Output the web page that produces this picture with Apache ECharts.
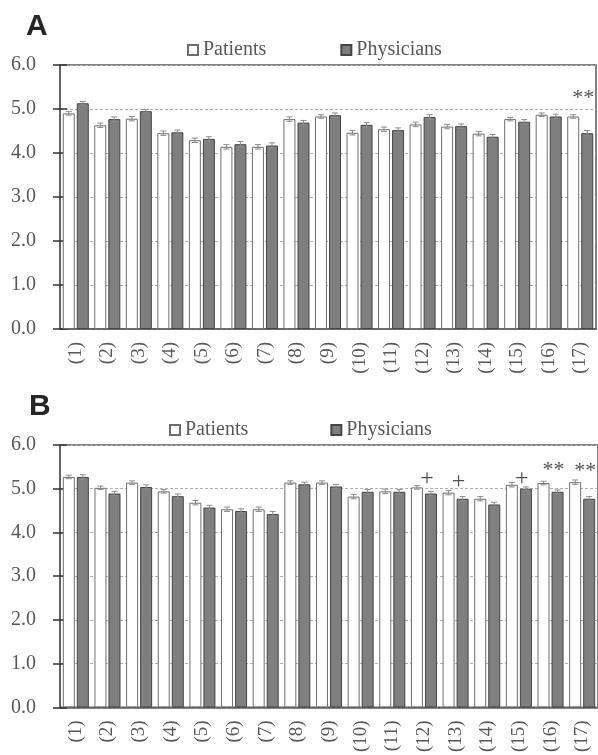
<!DOCTYPE html>
<html>
<head>
<meta charset="utf-8">
<script src="https://cdn.jsdelivr.net/npm/echarts@6/dist/echarts.min.js"></script>
<style>html,body{margin:0;padding:0;background:#fff;}#c{width:598px;height:755px;}</style>
</head>
<body>
<div id="c"></div>
<script>
// ---- data ----
const categories = ['(1)','(2)','(3)','(4)','(5)','(6)','(7)','(8)','(9)','(10)','(11)','(12)','(13)','(14)','(15)','(16)','(17)'];
const seriesNames = ['Patients', 'Physicians'];

// Panel A
const panelA_patients   = [4.90,4.63,4.78,4.45,4.29,4.14,4.14,4.77,4.83,4.46,4.54,4.65,4.60,4.44,4.77,4.87,4.83];
const panelA_physicians = [5.13,4.77,4.95,4.47,4.32,4.20,4.17,4.69,4.86,4.64,4.52,4.82,4.61,4.37,4.71,4.83,4.45];
const panelA_patientsErr   = [0.04,0.05,0.05,0.05,0.05,0.05,0.05,0.05,0.04,0.05,0.05,0.05,0.05,0.05,0.04,0.04,0.04];
const panelA_physiciansErr = [0.04,0.05,0.04,0.05,0.05,0.06,0.06,0.05,0.05,0.05,0.05,0.05,0.05,0.05,0.05,0.05,0.06];
const panelA_markCats  = ['(17)'];
const panelA_markTexts = ['**'];
const panelA_markY     = [5.25];

// Panel B
const panelB_patients   = [5.27,5.02,5.14,4.94,4.68,4.53,4.53,5.14,5.14,4.82,4.94,5.03,4.91,4.77,5.09,5.13,5.15];
const panelB_physicians = [5.27,4.89,5.04,4.83,4.57,4.49,4.42,5.10,5.05,4.93,4.93,4.89,4.77,4.64,5.00,4.93,4.77];
const panelB_patientsErr   = [0.04,0.04,0.04,0.04,0.05,0.05,0.05,0.04,0.04,0.05,0.05,0.04,0.05,0.05,0.05,0.04,0.05];
const panelB_physiciansErr = [0.05,0.05,0.05,0.05,0.05,0.05,0.06,0.05,0.05,0.05,0.05,0.05,0.05,0.05,0.04,0.04,0.05];
const panelB_markCats  = ['(12)','(13)','(15)','(16)','(17)'];
const panelB_markTexts = ['+','+','+','**','**'];
const panelB_markY     = [5.23,5.15,5.23,5.42,5.40];

const yMin = 0, yMax = 6, yInterval = 1;

// ---- styles ----
const SERIF = '"Liberation Serif","Times New Roman",serif';
const TXT = '#595959';
const LINE = '#595959';
const BAR_W = 12;
const HALF_SPACING = 7; // half distance between the two bar centres (bar width + gap)/2

function errRender(side) {
  return function (params, api) {
    const i = api.value(0), v = api.value(1), e = api.value(2);
    const top = api.coord([i, v + e]);
    const bot = api.coord([i, v - e]);
    const x = top[0] + side * HALF_SPACING;
    const st = { stroke: '#8c8c8c', lineWidth: 1 };
    return {
      type: 'group',
      children: [
        { type: 'line', shape: { x1: x, y1: top[1], x2: x, y2: bot[1] }, style: st },
        { type: 'line', shape: { x1: x - 3, y1: top[1], x2: x + 3, y2: top[1] }, style: st },
        { type: 'line', shape: { x1: x - 3, y1: bot[1], x2: x + 3, y2: bot[1] }, style: st }
      ]
    };
  };
}

function panelSeries(gi, pat, phy, patErr, phyErr, mCats, mTexts, mY) {
  const xi = gi, yi = gi * 2;
  return [
    { name: seriesNames[0], type: 'bar', xAxisIndex: xi, yAxisIndex: yi, data: pat,
      barWidth: BAR_W, barGap: '17%',
      itemStyle: { color: '#ffffff', borderColor: '#6e6e6e', borderWidth: 1 }, silent: true },
    { name: seriesNames[1], type: 'bar', xAxisIndex: xi, yAxisIndex: yi, data: phy,
      barWidth: BAR_W, barGap: '17%',
      itemStyle: { color: '#7f7f7f', borderColor: '#454545', borderWidth: 1 }, silent: true },
    { type: 'custom', xAxisIndex: xi, yAxisIndex: yi, z: 5, silent: true,
      renderItem: errRender(-1), data: pat.map((v, i) => [i, v, patErr[i]]), encode: { x: 0, y: 1 } },
    { type: 'custom', xAxisIndex: xi, yAxisIndex: yi, z: 5, silent: true,
      renderItem: errRender(1), data: phy.map((v, i) => [i, v, phyErr[i]]), encode: { x: 0, y: 1 } },
    { type: 'scatter', xAxisIndex: xi, yAxisIndex: yi, symbolSize: 0, silent: true, z: 6,
      data: mCats.map((c, k) => ({ value: [c, mY[k]], label: { formatter: mTexts[k], fontSize: mTexts[k] === '+' ? 24 : 22 } })),
      label: { show: true, position: 'inside', offset: [3, 0], color: '#262626', fontFamily: SERIF, fontSize: 22 } }
  ];
}

function xAxisFor(gi) {
  return {
    type: 'category', gridIndex: gi, data: categories,
    axisLine: { lineStyle: { color: LINE, width: 1.5 } },
    axisTick: { show: false },
    axisLabel: { rotate: 90, margin: 13, color: TXT, fontFamily: SERIF, fontSize: 19, interval: 0 },
    splitLine: { show: false }
  };
}
function yAxesFor(gi) {
  return [
    { type: 'value', gridIndex: gi, min: yMin, max: yMax, interval: yInterval,
      axisLine: { show: true, lineStyle: { color: LINE, width: 1.5 } },
      axisTick: { show: true, length: 7, lineStyle: { color: '#333', width: 1.5 } },
      axisLabel: { margin: 24, color: TXT, fontFamily: SERIF, fontSize: 20, formatter: v => v.toFixed(1) },
      splitLine: { show: true, lineStyle: { color: '#b0b0b0', type: [3, 2], width: 1 } } },
    { type: 'value', gridIndex: gi, min: yMin, max: yMax, interval: yInterval, position: 'left',
      axisLine: { show: false },
      axisTick: { show: true, inside: true, length: 7, lineStyle: { color: '#333', width: 1.5 } },
      axisLabel: { show: false }, splitLine: { show: false } }
  ];
}

const legendText = { fontFamily: SERIF, fontSize: 20, color: TXT };
const chart = echarts.init(document.getElementById('c'), null, { renderer: 'canvas' });
chart.setOption({
  animation: false,
  backgroundColor: '#ffffff',
  title: [
    { text: 'A', left: 21, top: 7, textStyle: { fontFamily: '"Liberation Sans",Arial,sans-serif', fontWeight: 'bold', fontSize: 30, color: '#262626' } },
    { text: 'B', left: 24, top: 387, textStyle: { fontFamily: '"Liberation Sans",Arial,sans-serif', fontWeight: 'bold', fontSize: 30, color: '#262626' } }
  ],
  legend: [
    { data: seriesNames, left: 182, top: 35, icon: 'rect', itemWidth: 10, itemHeight: 10, itemGap: 74,
      textStyle: legendText, selectedMode: false },
    { data: seriesNames, left: 164, top: 415, icon: 'rect', itemWidth: 10, itemHeight: 10, itemGap: 82,
      textStyle: legendText, selectedMode: false }
  ],
  grid: [
    { left: 60, top: 65, width: 536, height: 264, show: true, borderColor: LINE, borderWidth: 1.5, backgroundColor: 'transparent' },
    { left: 60, top: 445, width: 541, height: 264, show: true, borderColor: LINE, borderWidth: 1.5, backgroundColor: 'transparent' }
  ],
  xAxis: [xAxisFor(0), xAxisFor(1)],
  yAxis: [...yAxesFor(0), ...yAxesFor(1)],
  series: [
    ...panelSeries(0, panelA_patients, panelA_physicians, panelA_patientsErr, panelA_physiciansErr, panelA_markCats, panelA_markTexts, panelA_markY),
    ...panelSeries(1, panelB_patients, panelB_physicians, panelB_patientsErr, panelB_physiciansErr, panelB_markCats, panelB_markTexts, panelB_markY)
  ]
});
</script>
</body>
</html>
